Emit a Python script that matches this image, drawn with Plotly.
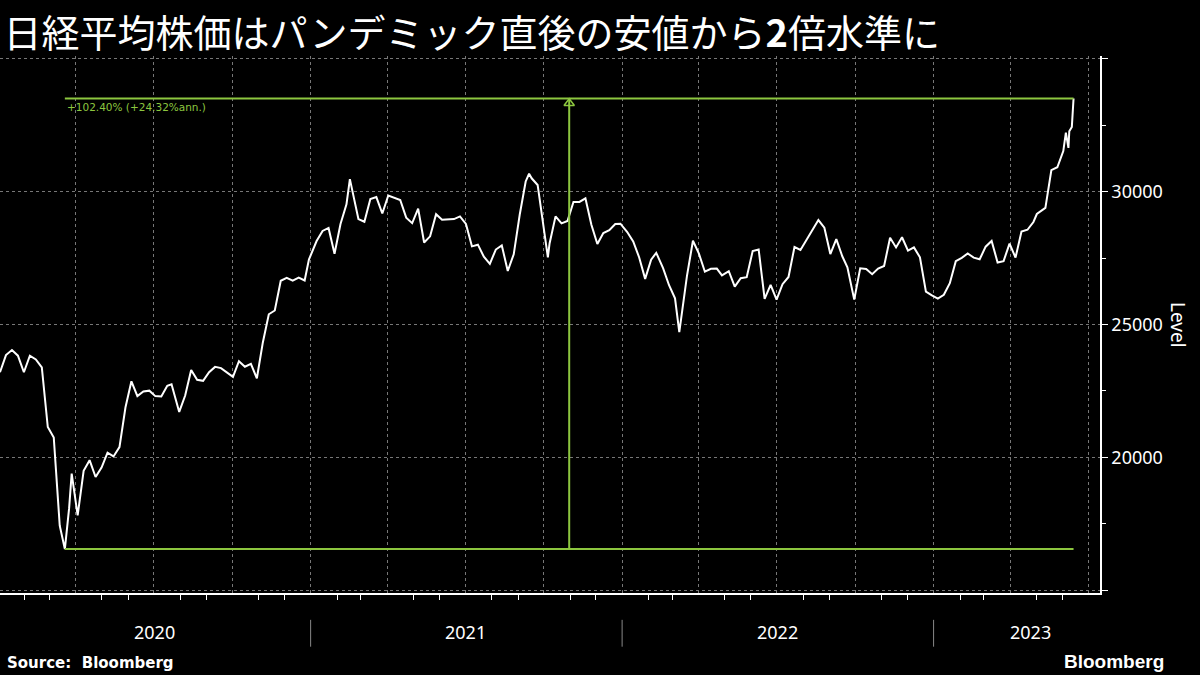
import plotly.graph_objects as go
import pandas as pd

# Nikkei 225 weekly-ish closes
dates_2020 = ["2020-01-03", "2020-01-10", "2020-01-17", "2020-01-24", "2020-01-31", "2020-02-07", "2020-02-14",
              "2020-02-21", "2020-02-28", "2020-03-06", "2020-03-13", "2020-03-19", "2020-03-24", "2020-03-27",
              "2020-04-03", "2020-04-10", "2020-04-17", "2020-04-24", "2020-05-01", "2020-05-08", "2020-05-15",
              "2020-05-22", "2020-05-29", "2020-06-05", "2020-06-12", "2020-06-19", "2020-06-26", "2020-07-03",
              "2020-07-10", "2020-07-17", "2020-07-22", "2020-07-31", "2020-08-07", "2020-08-14", "2020-08-21",
              "2020-08-28", "2020-09-04", "2020-09-11", "2020-09-18", "2020-09-25", "2020-10-02", "2020-10-09",
              "2020-10-16", "2020-10-23", "2020-10-30", "2020-11-06", "2020-11-13", "2020-11-20", "2020-11-27",
              "2020-12-04", "2020-12-11", "2020-12-18", "2020-12-25", "2020-12-30"]
vals_2020 = [23205, 23850, 24041, 23827, 23205, 23828, 23688, 23387, 21143, 20750, 17431, 16552, 18092, 19389,
             17820, 19498, 19897, 19262, 19619, 20179, 20037, 20388, 21877, 22863, 22305, 22478, 22512, 22306,
             22290, 22696, 22751, 21710, 22329, 23289, 22920, 22882, 23205, 23406, 23360, 23205, 23029, 23619,
             23410, 23516, 22977, 24325, 25385, 25527, 26644, 26751, 26652, 26763, 26656, 27444]

dates_2021 = ["2021-01-08", "2021-01-15", "2021-01-22", "2021-01-29", "2021-02-05", "2021-02-12", "2021-02-16",
              "2021-02-19", "2021-02-26", "2021-03-05", "2021-03-12", "2021-03-19", "2021-03-26", "2021-04-02",
              "2021-04-09", "2021-04-16", "2021-04-23", "2021-04-30", "2021-05-07", "2021-05-14", "2021-05-21",
              "2021-05-28", "2021-06-04", "2021-06-11", "2021-06-18", "2021-06-25", "2021-07-02", "2021-07-09",
              "2021-07-16", "2021-07-23", "2021-07-30", "2021-08-06", "2021-08-13", "2021-08-20", "2021-08-27",
              "2021-09-03", "2021-09-10", "2021-09-14", "2021-09-17", "2021-09-24", "2021-10-01", "2021-10-06",
              "2021-10-08", "2021-10-15", "2021-10-22", "2021-10-29", "2021-11-05", "2021-11-12", "2021-11-19",
              "2021-11-26", "2021-12-03", "2021-12-10", "2021-12-17", "2021-12-24", "2021-12-30"]
vals_2021 = [28139, 28519, 28631, 27663, 28779, 29520, 30467, 30018, 28966, 28864, 29717, 29792, 29176, 29854,
             29768, 29683, 29020, 28812, 29357, 28084, 28317, 29149, 28941, 28948, 28964, 29066, 28783, 27940,
             28003, 27548, 27283, 27820, 27977, 27013, 27641, 29128, 30381, 30670, 30500, 30249, 28771, 27528,
             28049, 29068, 28805, 28892, 29612, 29609, 29745, 28751, 28029, 28437, 28545, 28782, 28791]

dates_2022 = ["2022-01-07", "2022-01-14", "2022-01-21", "2022-01-28", "2022-02-04", "2022-02-10", "2022-02-18",
              "2022-02-25", "2022-03-04", "2022-03-09", "2022-03-11", "2022-03-18", "2022-03-25", "2022-04-01",
              "2022-04-08", "2022-04-15", "2022-04-22", "2022-04-28", "2022-05-06", "2022-05-13", "2022-05-20",
              "2022-05-27", "2022-06-03", "2022-06-10", "2022-06-17", "2022-06-24", "2022-07-01", "2022-07-08",
              "2022-07-15", "2022-07-22", "2022-07-29", "2022-08-05", "2022-08-12", "2022-08-19", "2022-08-26",
              "2022-09-02", "2022-09-09", "2022-09-16", "2022-09-22", "2022-09-30", "2022-10-07", "2022-10-14",
              "2022-10-21", "2022-10-28", "2022-11-04", "2022-11-11", "2022-11-18", "2022-11-25", "2022-12-02",
              "2022-12-09", "2022-12-16", "2022-12-23", "2022-12-30"]
vals_2022 = [28479, 28124, 27522, 26717, 27440, 27696, 27122, 26477, 25985, 24717, 25163, 26827, 28150, 27666,
             26986, 27093, 27105, 26848, 27003, 26427, 26739, 26782, 27761, 27824, 25963, 26491, 25936, 26517,
             26788, 27915, 27802, 28176, 28547, 28930, 28641, 27650, 28214, 27567, 27153, 25937, 27116, 27090,
             26891, 27105, 27199, 28263, 27899, 28283, 27777, 27901, 27527, 26235, 26095]

dates_2023 = ["2023-01-06", "2023-01-13", "2023-01-20", "2023-01-27", "2023-02-03", "2023-02-10", "2023-02-17",
              "2023-02-24", "2023-03-03", "2023-03-10", "2023-03-17", "2023-03-24", "2023-03-31", "2023-04-07",
              "2023-04-14", "2023-04-21", "2023-04-28", "2023-05-02", "2023-05-12", "2023-05-19", "2023-05-26",
              "2023-06-02", "2023-06-05", "2023-06-08", "2023-06-09", "2023-06-12", "2023-06-13", "2023-06-14"]
vals_2023 = [25973, 26119, 26553, 27382, 27509, 27670, 27513, 27453, 27927, 28143, 27333, 27385, 28041, 27518,
             28493, 28564, 28856, 29157, 29388, 30808, 30916, 31524, 32217, 31641, 32265, 32434, 33018, 33502]

dates = pd.to_datetime(dates_2020 + dates_2021 + dates_2022 + dates_2023)
level = vals_2020 + vals_2021 + vals_2022 + vals_2023

low_date, low_val = "2020-03-19", 16552
end_date, end_val = "2023-06-14", 33502
mid_date = "2021-10-31"
gain_label = "+102.40% (+24.32%ann.)"

year_labels = ["2020", "2021", "2022", "2023"]
year_centres = ["2020-07-02", "2021-07-02", "2022-07-02", "2023-04-25"]
year_starts = ["2021-01-01", "2022-01-01", "2023-01-01"]

green = "#8cc63f"

fig = go.Figure()
fig.add_trace(go.Scatter(x=dates, y=level, mode="lines", line=dict(color="white", width=2), hoverinfo="skip"))

# gain measurement lines
fig.add_trace(go.Scatter(x=[low_date, end_date], y=[low_val, low_val], mode="lines", line=dict(color=green, width=2)))
fig.add_trace(go.Scatter(x=[low_date, end_date], y=[end_val, end_val], mode="lines", line=dict(color=green, width=2)))
fig.add_trace(go.Scatter(x=[mid_date, mid_date], y=[low_val, end_val], mode="lines", line=dict(color=green, width=2)))
fig.add_trace(go.Scatter(x=[mid_date], y=[end_val - 180], mode="markers",
                         marker=dict(symbol="triangle-up-open", size=9, color=green, line=dict(width=1.5))))

fig.add_annotation(x=low_date, y=end_val, text=gain_label, showarrow=False, xanchor="left", yanchor="top",
                   yshift=-1, font=dict(color=green, size=10.5, family="DejaVu Sans"))

for lbl, c in zip(year_labels, year_centres):
    fig.add_annotation(x=c, y=-0.098, yref="paper", text=lbl, showarrow=False,
                       font=dict(color="white", size=18, family="Noto Sans"))
for s in year_starts:
    fig.add_shape(type="line", x0=s, x1=s, y0=-0.05, y1=-0.1, yref="paper", line=dict(color="#888", width=1))

fig.add_annotation(x=1.085, y=0.5, xref="paper", yref="paper", text="Level", textangle=90, showarrow=False,
                   font=dict(color="white", size=19, family="Noto Sans"))
fig.add_annotation(x=0, y=-0.15, xref="paper", yref="paper", text="<b>Source:  Bloomberg</b>", showarrow=False,
                   xanchor="left", xshift=5, font=dict(color="white", size=15, family="DejaVu Sans"))
fig.add_annotation(x=1.06, y=-0.15, xref="paper", yref="paper", text="<b>Bloomberg</b>", showarrow=False,
                   xanchor="right", font=dict(color="white", size=19, family="Liberation Sans"))

fig.update_layout(
    width=1200, height=675,
    paper_bgcolor="black", plot_bgcolor="black",
    showlegend=False,
    margin=dict(l=0, r=100, t=56, b=82),
    title=dict(text="日経平均株価はパンデミック直後の安値から<b>2</b>倍水準に", x=0.003, xanchor="left", y=0.97,
               yanchor="top", font=dict(color="white", size=38, family="Noto Sans CJK JP")),
    xaxis=dict(range=["2020-01-03", "2023-07-15"], showticklabels=False, dtick="M3", tick0="2020-01-01",
               showgrid=True, gridcolor="#777", griddash="dot", gridwidth=1, zeroline=False,
               showline=True, linecolor="white", linewidth=1.5, ticks="",
               minor=dict(dtick="M1", ticks="outside", ticklen=5, tickcolor="white", showgrid=False)),
    yaxis=dict(side="right", range=[14900, 35100], zeroline=False,
               tickmode="array", tickvals=[15000, 20000, 25000, 30000, 35000],
               ticktext=["", "20000", "25000", "30000", ""],
               showgrid=True, gridcolor="#777", griddash="dot",
               showline=True, linecolor="white", linewidth=1.5, ticks="outside", ticklen=6, tickcolor="white",
               tickfont=dict(color="white", size=18, family="Noto Sans"),
               minor=dict(tickvals=[17500, 22500, 27500, 32500], ticks="outside", ticklen=4, tickcolor="white")),
)

fig.write_html("out.html", config={"displayModeBar": False},
               post_script="document.body.style.margin='0';document.body.style.background='black';")
